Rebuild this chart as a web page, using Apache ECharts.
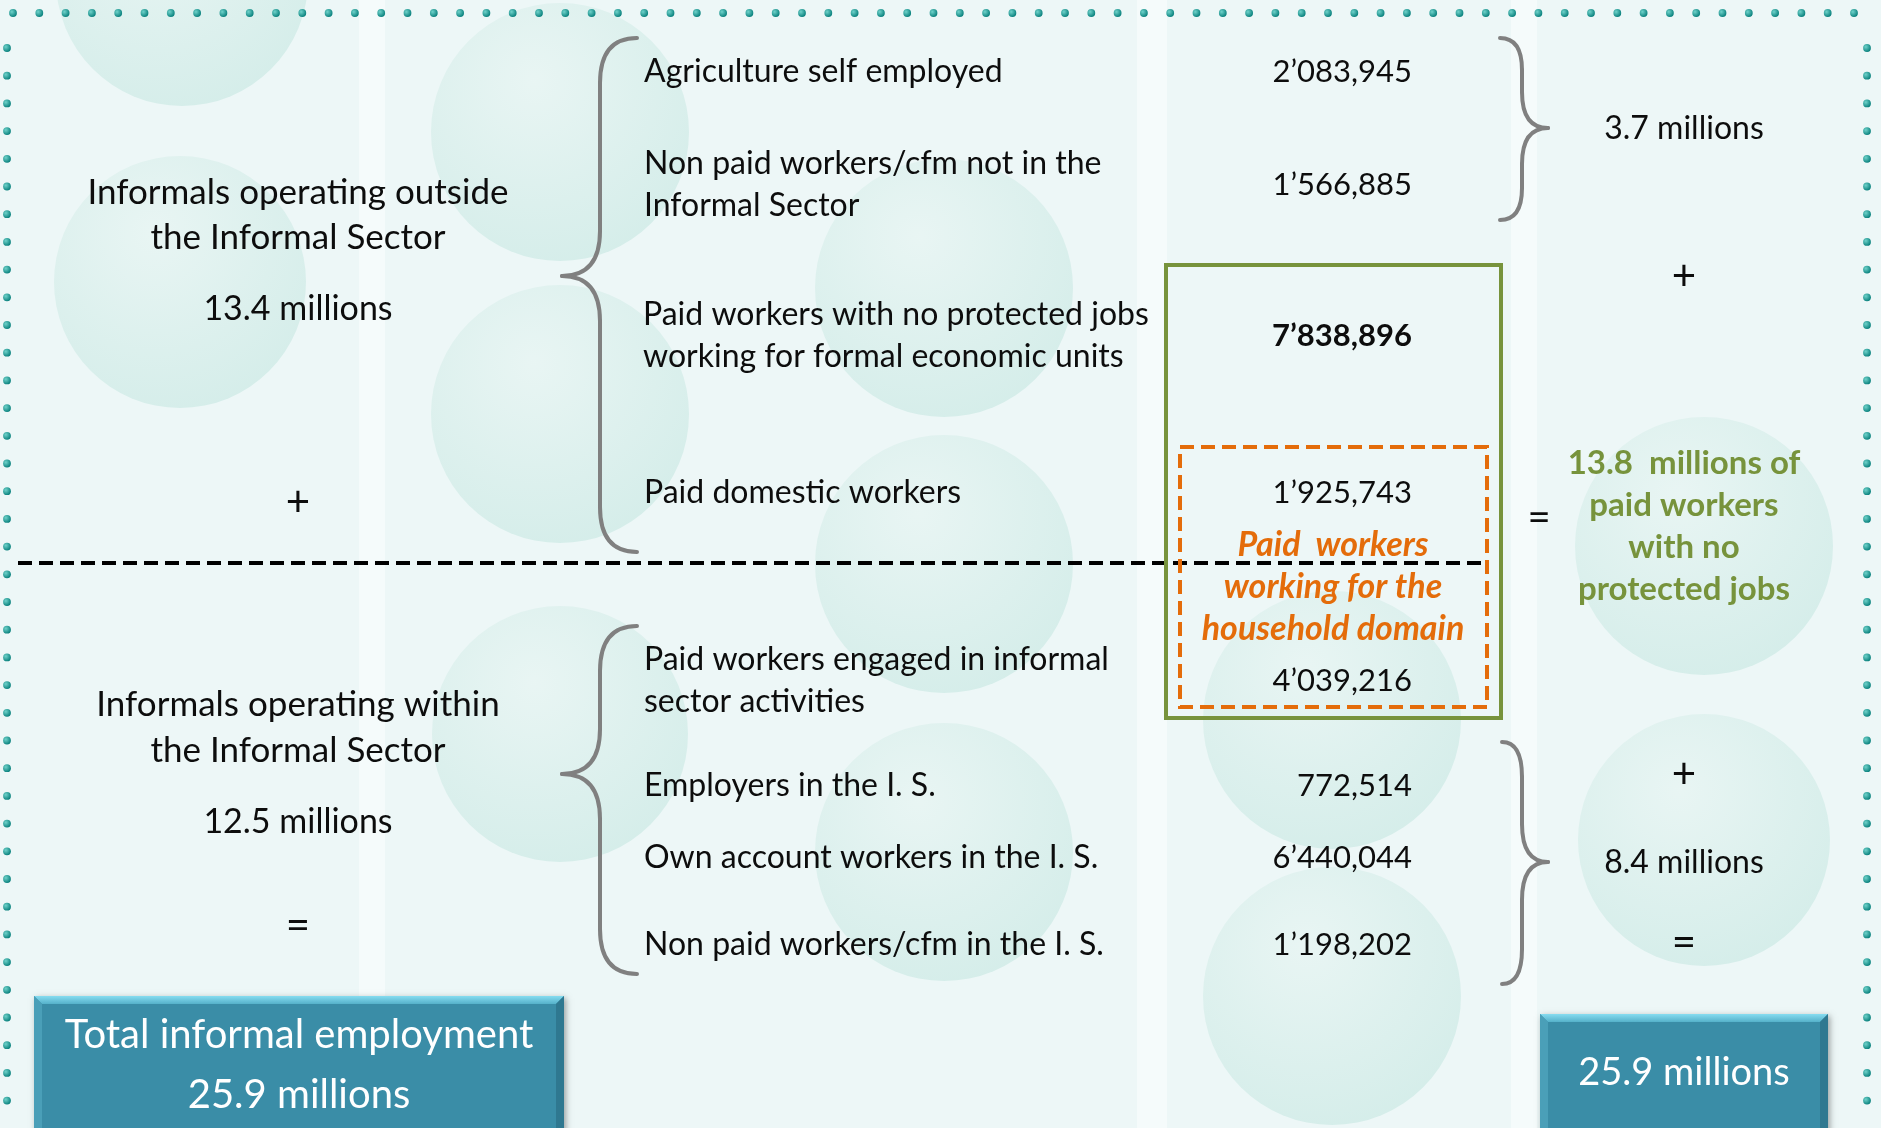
<!DOCTYPE html>
<html>
<head>
<meta charset="utf-8">
<title>Informal employment</title>
<script src="https://cdn.jsdelivr.net/npm/echarts@6/dist/echarts.min.js"></script>
<style>
  html, body { margin: 0; padding: 0; background: #edf7f7; }
  #main { width: 1881px; height: 1128px; }
</style>
</head>
<body>
<div id="main"></div>
<script>
// ---- data ----
var groupNames = ['Informals operating outside\nthe Informal Sector', 'Informals operating within\nthe Informal Sector'];
var groupTotals = ['13.4 millions', '12.5 millions'];
var itemLabels = [
	'Agriculture self employed',
	'Non paid workers/cfm not in the\nInformal Sector',
	'Paid workers with no protected jobs\nworking for formal economic units',
	'Paid domestic workers',
	'Paid workers engaged in informal\nsector activities',
	'Employers in the I. S.',
	'Own account workers in the I. S.',
	'Non paid workers/cfm in the I. S.'
];
var itemValues = [2083945, 1566885, 7838896, 1925743, 4039216, 772514, 6440044, 1198202];
var rightTotals = ['3.7 millions', '8.4 millions'];
var paidNoProtection = '13.8  millions of\npaid workers\nwith no\nprotected jobs';
var householdNote = 'Paid  workers\nworking for the\nhousehold domain';
var grandLabel = 'Total informal employment';
var grandTotal = '25.9 millions';

// ---- layout ----
var FONT = 'Lato, "Open Sans", sans-serif';
var itemY = [72, 185, 336, 493, 681, 786, 858, 945];
var itemLabelX = [644, 644, 643, 644, 644, 644, 644, 644];
var valueX = 1412;

// number like 2’083,945
function fmt(v) {
	var m = Math.floor(v / 1e6), rest = v % 1e6;
	var t = Math.floor(rest / 1000), u = rest % 1000;
	function p3(n) { return ('00' + n).slice(-3); }
	if (m > 0) return m + '\u2019' + p3(t) + ',' + p3(u);
	return t + ',' + p3(u);
}

var els = [];

function txt(s, x, y, size, opt) {
	opt = opt || {};
	els.push({
		type: 'text', z: 10,
		style: {
			text: s, x: x, y: y,
			textAlign: opt.align || 'center',
			textVerticalAlign: 'middle',
			font: (opt.style || 'normal') + ' ' + (opt.weight || 'normal') + ' ' + size + 'px ' + FONT,
			fill: opt.color || '#0d0d0d',
			lineHeight: opt.lh || size * 1.4
		}
	});
}

// background stripes
[[372, 26], [1152, 30], [1524, 26]].forEach(function (s) {
	els.push({ type: 'rect', z: 0, shape: { x: s[0] - s[1] / 2, y: 0, width: s[1], height: 1128 }, style: { fill: 'rgba(255,255,255,0.45)' } });
});

// pale spheres
var spheres = [[182, -20, 126], [180, 282, 126], [560, 132, 129], [560, 414, 129], [560, 734, 128],
	[944, 288, 129], [944, 564, 129], [944, 852, 129], [1332, 720, 129], [1332, 996, 129],
	[1704, 546, 129], [1704, 840, 126]];
spheres.forEach(function (c) {
	els.push({
		type: 'circle', z: 1,
		shape: { cx: c[0], cy: c[1], r: c[2] },
		style: {
			fill: { type: 'radial', x: 0.4, y: 0.3, r: 0.75, colorStops: [
				{ offset: 0, color: 'rgba(232,245,243,0.9)' },
				{ offset: 1, color: 'rgba(210,236,232,0.9)' }] }
		}
	});
});

// dotted frame
function dot(x, y) {
	els.push({
		type: 'circle', z: 2,
		shape: { cx: x, cy: y, r: 3.9 },
		style: { fill: { type: 'radial', x: 0.35, y: 0.35, r: 0.7, colorStops: [
			{ offset: 0, color: '#6fd2ca' }, { offset: 1, color: '#077f7b' }] } }
	});
}
for (var dx = 13; dx < 1875; dx += 26.3) dot(dx, 13);
for (var dy = 48; dy < 1128; dy += 27.7) { dot(7, dy); dot(1867, dy); }

// curly braces made of bezier pieces
function brace(xEnd, xLine, xTip, yTop, yBot, yTip, c, t) {
	var st = { stroke: '#808080', lineWidth: 4, fill: null, lineCap: 'round' };
	function q(x1, y1, cx, cy, x2, y2) {
		els.push({ type: 'bezierCurve', z: 5, shape: { x1: x1, y1: y1, cpx1: cx, cpy1: cy, x2: x2, y2: y2 }, style: st });
	}
	function l(x1, y1, x2, y2) {
		els.push({ type: 'line', z: 5, shape: { x1: x1, y1: y1, x2: x2, y2: y2 }, style: st });
	}
	q(xEnd, yTop, xLine, yTop, xLine, yTop + c);
	l(xLine, yTop + c, xLine, yTip - t);
	q(xLine, yTip - t, xLine, yTip, xTip, yTip);
	q(xTip, yTip, xLine, yTip, xLine, yTip + t);
	l(xLine, yTip + t, xLine, yBot - c);
	q(xLine, yBot - c, xLine, yBot, xEnd, yBot);
}
brace(637, 600, 562, 38, 552, 276, 45, 45);
brace(637, 600, 562, 626, 974, 774, 45, 45);
brace(1500, 1522, 1548, 38, 220, 128, 32, 36);
brace(1502, 1522, 1548, 742, 984, 862, 35, 38);

// left column
txt(groupNames[0], 298, 215, 35, { lh: 45 });
txt(groupTotals[0], 298, 309, 34);
txt('+', 298, 502, 42);
txt(groupNames[1], 298, 728, 35, { lh: 46 });
txt(groupTotals[1], 298, 822, 34);
txt('=', 298, 925, 42);

// divider
els.push({ type: 'line', z: 6, shape: { x1: 18, y1: 563, x2: 1488, y2: 563 },
	style: { stroke: '#000', lineWidth: 4, lineDash: [14, 7] } });

// items and values
itemLabels.forEach(function (s, i) {
	txt(s, itemLabelX[i], itemY[i], 32, { align: 'left', lh: 42 });
	txt(fmt(itemValues[i]), valueX, itemY[i], 31, { align: 'right', weight: i === 2 ? 'bold' : 'normal' });
});

// green and orange boxes
els.push({ type: 'rect', z: 7, shape: { x: 1166, y: 265, width: 335, height: 453 },
	style: { stroke: '#77933c', lineWidth: 4, fill: 'transparent' } });
els.push({ type: 'rect', z: 7, shape: { x: 1180, y: 447, width: 307, height: 260 },
	style: { stroke: '#e46c0a', lineWidth: 4, lineDash: [14, 7], fill: 'transparent' } });
txt(householdNote, 1333, 587, 34, { color: '#e46c0a', weight: 'bold', style: 'italic', lh: 42 });

// right column
txt(rightTotals[0], 1684, 129, 32);
txt('+', 1684, 276, 42);
txt('=', 1539, 518, 40);
txt(paidNoProtection, 1684, 526, 33, { color: '#77933c', weight: 'bold', lh: 42 });
txt('+', 1684, 774, 42);
txt(rightTotals[1], 1684, 863, 32);
txt('=', 1684, 942, 42);

// bevelled total boxes
function bevelBox(x, y, w, h) {
	var b = 8;
	els.push({ type: 'rect', z: 8, shape: { x: x, y: y, width: w, height: h },
		style: { fill: '#3a8da7', shadowBlur: 6, shadowColor: 'rgba(0,0,0,0.35)', shadowOffsetX: 2, shadowOffsetY: 2 } });
	els.push({ type: 'polygon', z: 9, shape: { points: [[x, y], [x + w, y], [x + w - b, y + b], [x + b, y + b]] },
		style: { fill: { type: 'linear', x: 0, y: 0, x2: 0, y2: 1, colorStops: [
			{ offset: 0, color: '#86dcf0' }, { offset: 1, color: '#55b1ca' }] } } });
	els.push({ type: 'polygon', z: 9, shape: { points: [[x, y], [x + b, y + b], [x + b, y + h], [x, y + h]] },
		style: { fill: '#4a9fb8' } });
	els.push({ type: 'polygon', z: 9, shape: { points: [[x + w, y], [x + w - b, y + b], [x + w - b, y + h], [x + w, y + h]] },
		style: { fill: '#2f7890' } });
}
bevelBox(34, 996, 530, 140);
bevelBox(1540, 1014, 288, 122);
txt(grandLabel + '\n' + grandTotal, 299, 1065, 40, { color: '#ffffff', lh: 60 });
txt(grandTotal, 1684, 1073, 38, { color: '#ffffff' });

var myChart = echarts.init(document.getElementById('main'));
var option = {
	backgroundColor: '#edf7f7',
	animation: false,
	graphic: { elements: els }
};
myChart.setOption(option);
window.addEventListener('resize', function () {
	myChart.resize();
});
</script>
</body>
</html>
